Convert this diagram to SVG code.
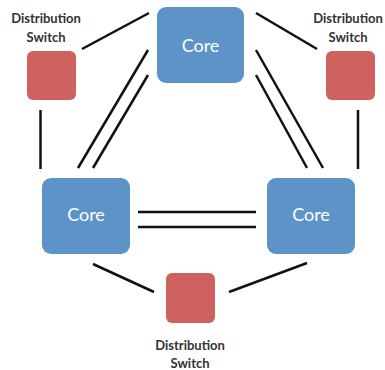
<svg xmlns="http://www.w3.org/2000/svg" width="385" height="370" viewBox="0 0 385 370">
<style>
.core{fill:#5E93C7}
.dist{fill:#CF625E}
.ct{font-family:"Lato","Open Sans",sans-serif;font-size:18px;fill:#fff;text-anchor:middle}
.lbl{font-family:"Lato","Open Sans",sans-serif;font-weight:bold;font-size:13px;fill:#333;text-anchor:middle}
#connectors line{stroke:#111;stroke-width:2.5;stroke-linecap:butt}
</style>
<rect width="385" height="370" fill="#fff"/>
<g id="connectors">
<line x1="82" y1="49" x2="149" y2="13"/>
<line x1="256" y1="13" x2="317" y2="49"/>
<line x1="40.5" y1="110" x2="40.5" y2="169"/>
<line x1="358" y1="110" x2="358" y2="169"/>
<line x1="148" y1="50" x2="78" y2="168"/>
<line x1="148" y1="75" x2="93" y2="168"/>
<line x1="256" y1="50" x2="323" y2="168"/>
<line x1="256" y1="75" x2="307" y2="168"/>
<line x1="138" y1="212" x2="256" y2="212"/>
<line x1="138" y1="227" x2="256" y2="227"/>
<line x1="93" y1="264" x2="154" y2="292"/>
<line x1="229" y1="292" x2="307" y2="263"/>
</g>
<g id="core-top"><rect class="core" x="157" y="7" width="87" height="76" rx="9"/><text class="ct" x="200.5" y="52">Core</text></g>
<g id="core-left"><rect class="core" x="42" y="178" width="88" height="76" rx="9"/><text class="ct" x="86" y="221">Core</text></g>
<g id="core-right"><rect class="core" x="267" y="178" width="88" height="76" rx="9"/><text class="ct" x="311" y="221">Core</text></g>
<g id="dist-left"><rect class="dist" x="27" y="51" width="49" height="49" rx="6"/><text class="lbl" x="46" y="23">Distribution</text><text class="lbl" x="46" y="42">Switch</text></g>
<g id="dist-right"><rect class="dist" x="326" y="51" width="49" height="49" rx="6"/><text class="lbl" x="348" y="23">Distribution</text><text class="lbl" x="348" y="42">Switch</text></g>
<g id="dist-bottom"><rect class="dist" x="166" y="273" width="49" height="50" rx="6"/><text class="lbl" x="190" y="350">Distribution</text><text class="lbl" x="190" y="368">Switch</text></g>
</svg>
